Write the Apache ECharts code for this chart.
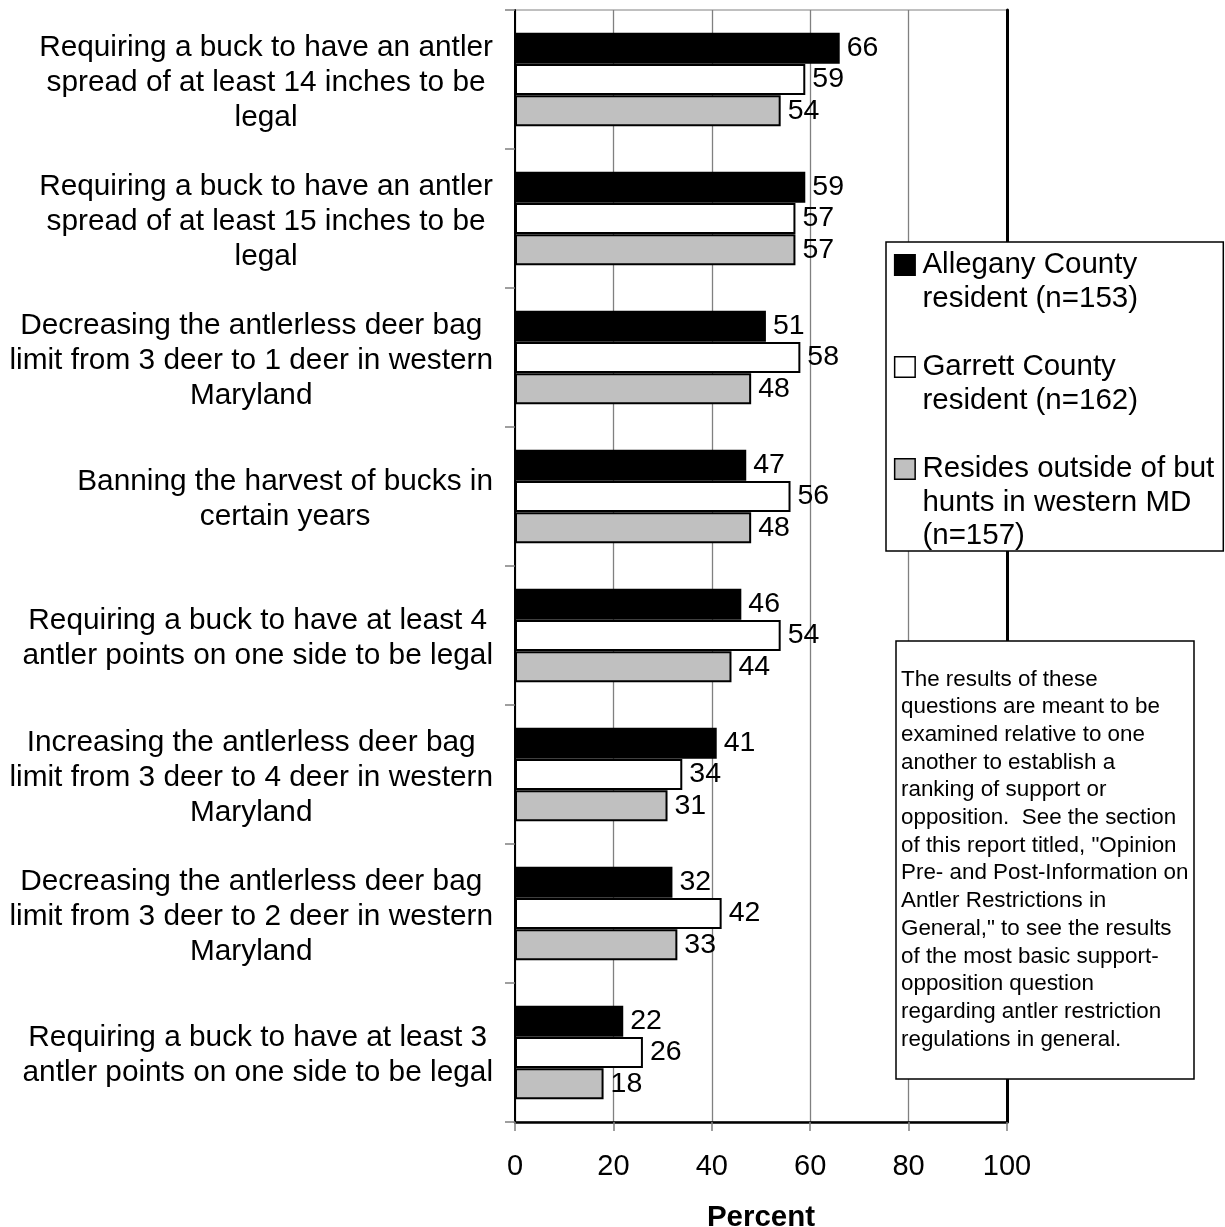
<!DOCTYPE html>
<html>
<head>
<meta charset="utf-8">
<script src="https://cdn.jsdelivr.net/npm/echarts@6/dist/echarts.min.js"></script>
<style>
html,body{margin:0;padding:0;background:#fff;}
#chart{width:1225px;height:1227px;}
</style>
</head>
<body>
<div id="chart"></div>
<script>
const categories = [
  "Requiring a buck to have an antler\nspread of at least 14 inches to be\nlegal",
  "Requiring a buck to have an antler\nspread of at least 15 inches to be\nlegal",
  "Decreasing the antlerless deer bag\nlimit from 3 deer to 1 deer in western\nMaryland",
  "Banning the harvest of bucks in\ncertain years",
  "Requiring a buck to have at least 4\nantler points on one side to be legal",
  "Increasing the antlerless deer bag\nlimit from 3 deer to 4 deer in western\nMaryland",
  "Decreasing the antlerless deer bag\nlimit from 3 deer to 2 deer in western\nMaryland",
  "Requiring a buck to have at least 3\nantler points on one side to be legal"
];
const allegany = [66, 59, 51, 47, 46, 41, 32, 22];
const garrett  = [59, 57, 58, 56, 54, 34, 42, 26];
const outside  = [54, 57, 48, 48, 44, 31, 33, 18];
const legendLabels = [
  ["Allegany County", "resident (n=153)"],
  ["Garrett County", "resident (n=162)"],
  ["Resides outside of but", "hunts in western MD", "(n=157)"]
];
const xTicks = [0, 20, 40, 60, 80, 100];
const axisTitle = "Percent";
const noteLines = [
  "The results of these",
  "questions are meant to be",
  "examined relative to one",
  "another to establish a",
  "ranking of support or",
  "opposition.  See the section",
  "of this report titled, \"Opinion",
  "Pre- and Post-Information on",
  "Antler Restrictions in",
  "General,\" to see the results",
  "of the most basic support-",
  "opposition question",
  "regarding antler restriction",
  "regulations in general."
];

const FONT = '"Liberation Sans", Arial, Helvetica, sans-serif';
const colors = ['#000000', '#ffffff', '#c0c0c0'];
const seriesNames = legendLabels.map(l => l.join(' '));
const seriesData = [allegany, garrett, outside];

const chart = echarts.init(document.getElementById('chart'), null, {renderer: 'canvas'});

const series = seriesData.map((d, i) => ({
  name: seriesNames[i],
  type: 'bar',
  data: d,
  barWidth: 31,
  barGap: '1%',
  itemStyle: {color: colors[i], borderColor: '#000', borderWidth: 2},
  emphasis: {disabled: true},
  label: {
    show: true,
    position: 'right',
    distance: 7,
    color: '#000',
    fontSize: 28.5,
    fontFamily: FONT
  }
}));

const legendRich = {
  s: {width: 19, height: 19},
  t: {fontSize: 29.5, lineHeight: 33.5, fontFamily: FONT, color: '#000', padding: [0, 0, 0, 8]}
};
colors.forEach((c, i) => {
  legendRich['b' + i] = {width: 19, height: 19, backgroundColor: c, borderColor: '#000', borderWidth: 1.5};
});

const option = {
  backgroundColor: '#fff',
  animation: false,
  grid: {
    left: 515, top: 10, right: 218, bottom: 105,
    outerBoundsMode: 'none',
    containLabel: false,
    show: true, borderColor: '#808080', borderWidth: 1, backgroundColor: 'transparent'
  },
  xAxis: {
    type: 'value',
    min: xTicks[0], max: xTicks[xTicks.length - 1], interval: 20,
    name: axisTitle,
    nameLocation: 'middle',
    nameGap: 81,
    nameTextStyle: {fontSize: 29.5, fontWeight: 'bold', fontFamily: FONT, color: '#000'},
    axisLine: {show: true, onZero: false, lineStyle: {color: '#000', width: 2.5}},
    axisTick: {show: true, length: 9, lineStyle: {color: '#808080', width: 1.5}},
    axisLabel: {fontSize: 29, fontFamily: FONT, color: '#000', margin: 30.5},
    splitLine: {show: true, lineStyle: {color: '#808080', width: 1.3}}
  },
  yAxis: [{
    type: 'category',
    inverse: true,
    data: categories,
    axisLine: {show: true, lineStyle: {color: '#000', width: 2}},
    axisTick: {show: true, length: 10, lineStyle: {color: '#808080', width: 1.5}},
    axisLabel: {
      margin: 22,
      color: '#000',
      fontSize: 29.8,
      fontFamily: FONT,
      lineHeight: 35,
      padding: [6, 0, 0, 0],
      formatter: v => v.split('\n').map(l => '{c|' + l + '}').join('\n'),
      rich: {c: {align: 'center', fontSize: 29.8, lineHeight: 35, fontFamily: FONT, color: '#000'}}
    },
    splitLine: {show: false}
  }, {
    type: 'category',
    inverse: true,
    position: 'right',
    data: categories,
    axisLine: {show: true, lineStyle: {color: '#000', width: 3}},
    axisTick: {show: false},
    axisLabel: {show: false},
    splitLine: {show: false}
  }],
  legend: {
    orient: 'vertical',
    left: 886,
    top: 242,
    padding: [8, 9, 0, 3.4],
    itemGap: 38.5,
    itemWidth: 0,
    itemHeight: 0,
    itemStyle: {opacity: 0},
    selectedMode: false,
    backgroundColor: '#fff',
    borderColor: '#000',
    borderWidth: 1.5,
    borderRadius: 0,
    data: seriesNames,
    formatter: name => {
      const idx = seriesNames.indexOf(name);
      return legendLabels[idx].map((l, i) => (i === 0 ? '{b' + idx + '|}' : '{s|}') + '{t|' + l + '}').join('\n');
    },
    textStyle: {fontSize: 29.5, fontFamily: FONT, color: '#000', rich: legendRich}
  },
  graphic: [
    {
      type: 'rect', z: 10,
      shape: {x: 896, y: 641, width: 298, height: 438},
      style: {fill: '#fff', stroke: '#000', lineWidth: 1.5}
    },
    {
      type: 'text', z: 11,
      x: 901, y: 665.5,
      style: {text: noteLines.join('\n'), fontSize: 22.4, fontFamily: FONT, lineHeight: 27.7, fill: '#000'}
    }
  ],
  series: series
};
chart.setOption(option);
</script>
</body>
</html>
